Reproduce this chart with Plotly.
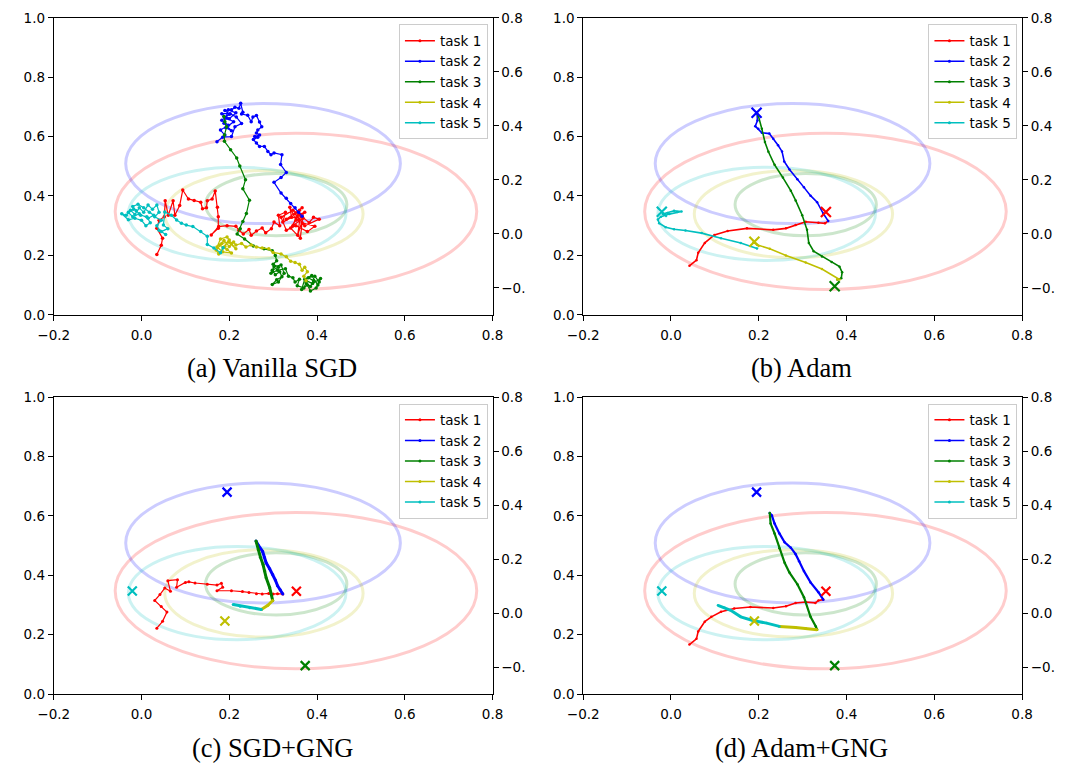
import plotly.graph_objects as go

# ---------------- data ----------------
task_names = ["task 1", "task 2", "task 3", "task 4", "task 5"]
task_colors = ["#ff0000", "#0000ff", "#008000", "#bfbf00", "#00bfbf"]
ellipse_colors = ["rgba(255,0,0,0.2)", "rgba(0,0,255,0.2)", "rgba(0,128,0,0.2)",
                  "rgba(191,191,0,0.2)", "rgba(0,191,191,0.2)"]
panel_titles = ["(a) Vanilla SGD", "(b) Adam", "(c) SGD+GNG", "(d) Adam+GNG"]

# task optima (x markers)
opt_x = [0.353, 0.195, 0.373, 0.190, -0.021]
opt_y = [0.346, 0.680, 0.096, 0.246, 0.347]

# loss contour ellipses per task: centre and semi-axes
ell_cx = [0.352, 0.277, 0.307, 0.279, 0.218]
ell_cy = [0.348, 0.509, 0.371, 0.339, 0.340]
ell_rx = [0.412, 0.313, 0.161, 0.226, 0.248]
ell_ry = [0.263, 0.202, 0.105, 0.147, 0.157]

x_tick_vals = [-0.2, 0.0, 0.2, 0.4, 0.6, 0.8]
y_tick_vals = [0.0, 0.2, 0.4, 0.6, 0.8, 1.0]
right_tick_vals = [-0.2, 0.0, 0.2, 0.4, 0.6, 0.8]
right_tick_text = ["\u22120.", "0.0", "0.2", "0.4", "0.6", "0.8"]

# (a) Vanilla SGD trajectories
sgd_task1 = [(0.035,0.203),(0.045,0.234),(0.048,0.258),(0.035,0.291),(0.040,0.318),(0.052,0.330),
             (0.054,0.384),(0.061,0.335),(0.072,0.384),(0.076,0.335),(0.087,0.368),(0.094,0.420),
             (0.107,0.390),(0.120,0.385),(0.135,0.379),(0.139,0.357),(0.148,0.360),(0.150,0.384),
             (0.161,0.390),(0.168,0.417),(0.173,0.362),(0.175,0.330),(0.175,0.291),(0.159,0.269),
             (0.176,0.297),(0.195,0.300),(0.215,0.298),(0.222,0.285),(0.232,0.272),(0.245,0.287),
             (0.250,0.268),(0.262,0.282),(0.275,0.292),(0.283,0.276),(0.296,0.290),(0.302,0.312),
             (0.315,0.300),(0.312,0.335),(0.328,0.345),(0.322,0.312),(0.342,0.328),(0.338,0.362),
             (0.352,0.318),(0.360,0.352),(0.345,0.300),(0.368,0.325),(0.356,0.268),(0.362,0.335),
             (0.382,0.310),(0.392,0.328),(0.405,0.322),(0.372,0.300),(0.350,0.340),(0.366,0.360),
             (0.330,0.322),(0.355,0.330),(0.340,0.292),(0.362,0.258),(0.366,0.310),(0.395,0.298),
             (0.378,0.280),(0.352,0.300),(0.330,0.285),(0.318,0.328),(0.345,0.352),(0.360,0.338),
             (0.372,0.345),(0.358,0.320),(0.366,0.332)]
sgd_task2 = [(0.366,0.332),(0.358,0.345),(0.350,0.360),(0.340,0.375),(0.330,0.392),(0.318,0.410),
             (0.302,0.446),(0.318,0.462),(0.330,0.479),(0.317,0.506),(0.320,0.539),(0.302,0.545),
             (0.295,0.539),(0.288,0.550),(0.280,0.567),(0.269,0.567),(0.262,0.578),(0.255,0.590),
             (0.265,0.598),(0.258,0.600),(0.269,0.605),(0.262,0.612),(0.265,0.622),(0.274,0.633),
             (0.269,0.649),(0.262,0.671),(0.254,0.666),(0.250,0.650),(0.242,0.672),(0.228,0.676),
             (0.231,0.682),(0.226,0.712),(0.222,0.695),(0.213,0.699),(0.205,0.690),(0.190,0.688),
             (0.200,0.675),(0.183,0.655),(0.198,0.638),(0.180,0.622),(0.190,0.605),(0.172,0.583),
             (0.185,0.598),(0.205,0.600),(0.213,0.633),(0.228,0.644),(0.216,0.666),(0.202,0.677),
             (0.183,0.677),(0.195,0.662),(0.210,0.650),(0.192,0.630),(0.205,0.620),(0.188,0.645),
             (0.198,0.690),(0.215,0.680),(0.200,0.660),(0.188,0.668)]
sgd_task3 = [(0.188,0.668),(0.190,0.650),(0.194,0.633),(0.189,0.605),(0.189,0.584),(0.203,0.556),
             (0.217,0.528),(0.224,0.501),(0.237,0.455),(0.231,0.424),(0.246,0.386),(0.239,0.341),
             (0.231,0.314),(0.225,0.290),(0.218,0.272),(0.235,0.255),(0.255,0.232),(0.279,0.222),
             (0.298,0.216),(0.305,0.200),(0.308,0.182),(0.300,0.170),(0.312,0.160),(0.298,0.150),
             (0.305,0.135),(0.315,0.145),(0.320,0.128),(0.308,0.118),(0.298,0.102),(0.312,0.110),
             (0.325,0.140),(0.318,0.168),(0.302,0.162),(0.295,0.140),(0.310,0.150),(0.328,0.155),
             (0.335,0.130),(0.345,0.125),(0.350,0.110),(0.360,0.120),(0.355,0.098),(0.370,0.090),
             (0.375,0.108),(0.385,0.095),(0.392,0.115),(0.380,0.125),(0.395,0.130),(0.405,0.110),
             (0.398,0.090),(0.385,0.080),(0.378,0.100),(0.365,0.085),(0.372,0.120),(0.388,0.132),
             (0.402,0.100),(0.408,0.122),(0.390,0.105),(0.375,0.115)]
sgd_task4 = [(0.375,0.115),(0.370,0.130),(0.378,0.145),(0.372,0.160),(0.366,0.150),(0.360,0.170),
             (0.350,0.176),(0.340,0.180),(0.330,0.195),(0.318,0.205),(0.300,0.210),(0.290,0.222),
             (0.275,0.225),(0.262,0.228),(0.250,0.235),(0.238,0.228),(0.228,0.240),(0.215,0.235),
             (0.210,0.245),(0.200,0.230),(0.188,0.250),(0.178,0.235),(0.195,0.220),(0.205,0.208),
             (0.185,0.212),(0.172,0.228),(0.180,0.255),(0.195,0.262),(0.205,0.240),(0.215,0.222),
             (0.198,0.245),(0.183,0.240),(0.170,0.218),(0.176,0.205),(0.190,0.230),(0.200,0.252),
             (0.186,0.226)]
sgd_task5 = [(0.186,0.226),(0.180,0.209),(0.165,0.225),(0.150,0.237),(0.150,0.264),(0.135,0.280),
             (0.117,0.297),(0.102,0.302),(0.091,0.308),(0.080,0.319),(0.068,0.335),(0.053,0.346),
             (0.050,0.302),(0.060,0.290),(0.045,0.280),(0.055,0.270),(0.040,0.285),(0.035,0.300),
             (0.045,0.318),(0.030,0.330),(0.040,0.345),(0.035,0.370),(0.025,0.355),(0.015,0.370),
             (0.005,0.345),(-0.005,0.360),(-0.015,0.338),(-0.025,0.352),(-0.035,0.335),(-0.045,0.340),
             (-0.030,0.320),(-0.015,0.325),(0.000,0.318),(0.010,0.300),(0.020,0.310),(0.012,0.330),
             (-0.002,0.335),(-0.012,0.350),(-0.020,0.365),(-0.008,0.372),(0.005,0.360),(0.018,0.345),
             (0.028,0.335),(0.015,0.325),(-0.005,0.340),(-0.020,0.330),(-0.030,0.345),(-0.018,0.355)]

# (b) Adam trajectories
adam_task1 = [(0.042,0.165),(0.058,0.184),(0.062,0.209),(0.077,0.242),(0.099,0.269),(0.129,0.282),
              (0.173,0.291),(0.233,0.286),(0.262,0.291),(0.284,0.302),(0.307,0.313),(0.336,0.310),
              (0.351,0.308),(0.358,0.316)]
adam_task2 = [(0.358,0.316),(0.347,0.341),(0.333,0.379),(0.318,0.401),(0.303,0.429),(0.288,0.456),
              (0.270,0.489),(0.258,0.516),(0.253,0.550),(0.244,0.571),(0.233,0.593),(0.224,0.610),
              (0.207,0.613),(0.199,0.626),(0.192,0.635),(0.197,0.654),(0.196,0.679)]
adam_task3 = [(0.196,0.679),(0.199,0.670),(0.207,0.626),(0.214,0.582),(0.222,0.549),(0.236,0.505),
              (0.255,0.462),(0.273,0.418),(0.284,0.385),(0.299,0.335),(0.310,0.286),(0.314,0.242),
              (0.325,0.214),(0.344,0.196),(0.366,0.178),(0.384,0.162),(0.390,0.143),(0.388,0.123),
              (0.379,0.119)]
adam_task4 = [(0.379,0.119),(0.384,0.119),(0.344,0.154),(0.307,0.176),(0.262,0.200),(0.225,0.222),
              (0.196,0.236),(0.188,0.244)]
adam_task5 = [(0.196,0.223),(0.159,0.242),(0.114,0.258),(0.070,0.275),(0.033,0.284),(0.007,0.288),
              (-0.012,0.295),(-0.027,0.308),(-0.030,0.321),(-0.023,0.330),(-0.004,0.339),(0.014,0.346),
              (0.024,0.348),(0.007,0.350),(-0.008,0.343),(-0.019,0.339)]

# (c) SGD+GNG trajectories
sgdgng_task1 = [(0.035,0.222),(0.048,0.245),(0.058,0.276),(0.045,0.295),(0.030,0.315),(0.042,0.335),
                (0.053,0.357),(0.066,0.346),(0.060,0.382),(0.082,0.385),(0.080,0.360),(0.100,0.376),
                (0.108,0.378),(0.122,0.374),(0.150,0.370),(0.172,0.367),(0.182,0.373),(0.185,0.360),
                (0.172,0.348),(0.205,0.348),(0.230,0.345),(0.245,0.342),(0.262,0.338),(0.275,0.337),
                (0.290,0.339),(0.300,0.337),(0.310,0.338),(0.322,0.337)]
sgdgng_task2 = [(0.322,0.337),(0.316,0.351),(0.310,0.365),(0.305,0.384),(0.299,0.403),(0.292,0.422),
                (0.284,0.442),(0.280,0.461),(0.276,0.480),(0.266,0.502),(0.261,0.515)]
sgdgng_task3 = [(0.261,0.515),(0.266,0.486),(0.271,0.461),(0.277,0.436),(0.281,0.414),(0.284,0.392),
                (0.292,0.359),(0.299,0.315)]
sgdgng_task4 = [(0.299,0.315),(0.288,0.299),(0.273,0.285)]
sgdgng_task5 = [(0.273,0.285),(0.247,0.291),(0.225,0.296),(0.209,0.302)]

# (d) Adam+GNG trajectories
adamgng_task1 = [(0.042,0.167),(0.058,0.186),(0.062,0.211),(0.077,0.244),(0.092,0.260),(0.114,0.277),
                 (0.144,0.288),(0.181,0.293),(0.233,0.290),(0.262,0.296),(0.284,0.307),(0.307,0.310),
                 (0.329,0.307),(0.336,0.315),(0.347,0.318)]
adamgng_task2 = [(0.347,0.318),(0.336,0.343),(0.318,0.376),(0.303,0.414),(0.292,0.447),(0.284,0.471),
                 (0.273,0.493),(0.259,0.511),(0.247,0.541),(0.236,0.574),(0.230,0.601),(0.225,0.610)]
adamgng_task3 = [(0.225,0.610),(0.227,0.574),(0.236,0.541),(0.247,0.491),(0.259,0.442),(0.270,0.409),
                 (0.288,0.370),(0.303,0.326),(0.318,0.260),(0.330,0.228),(0.333,0.217)]
adamgng_task4 = [(0.333,0.217),(0.307,0.222),(0.284,0.224),(0.247,0.228)]
adamgng_task5 = [(0.247,0.228),(0.218,0.239),(0.188,0.247),(0.159,0.260),(0.136,0.282),(0.122,0.291),
                 (0.107,0.299)]

panel_trajectories = [
    [sgd_task1, sgd_task2, sgd_task3, sgd_task4, sgd_task5],
    [adam_task1, adam_task2, adam_task3, adam_task4, adam_task5],
    [sgdgng_task1, sgdgng_task2, sgdgng_task3, sgdgng_task4, sgdgng_task5],
    [adamgng_task1, adamgng_task2, adamgng_task3, adamgng_task4, adamgng_task5],
]
show_optima = [False, True, True, True]

# ---------------- layout geometry (px) ----------------
W, H = 1086, 769
panel_left_px = [38.7, 581.7, 38.7, 581.7]
panel_right_px = [488.7, 1031.7, 488.7, 1031.7]
panel_top_px = [10.0, 10.0, 397.3, 397.3]
panel_bottom_px = [313.3, 313.3, 700.7, 700.7]
title_x_px = [263, 806, 263, 806]
title_y_px = [368, 368, 756, 756]

# line widths / marker sizes per panel and task
line_w = [[1.2] * 5, [1.6] * 5, [1.2, 3, 3, 3, 3], [1.6, 2.2, 2.2, 3, 3]]
mark_s = [[3.5] * 5, [2.5] * 5, [3, 3, 3, 3, 3], [2.5] * 5]

fig = go.Figure()
tick_font = dict(family="DejaVu Sans", size=13.5, color="black")

for p in range(4):
    sfx = "" if p == 0 else str(p + 1)
    xa, ya = "x" + sfx, "y" + sfx
    legend_name = "legend" + sfx
    for t in range(5):
        pts = panel_trajectories[p][t]
        fig.add_trace(go.Scatter(
            x=[q[0] for q in pts], y=[q[1] for q in pts],
            mode="lines+markers", name=task_names[t],
            line=dict(color=task_colors[t], width=line_w[p][t]),
            marker=dict(color=task_colors[t], size=mark_s[p][t]),
            xaxis=xa, yaxis=ya, showlegend=False,
        ))
    # legend entries (uniform thin line with small marker, like the reference)
    for t in range(5):
        fig.add_trace(go.Scatter(
            x=[None], y=[None], mode="lines+markers", name=task_names[t],
            line=dict(color=task_colors[t], width=1.5),
            marker=dict(color=task_colors[t], size=3),
            xaxis=xa, yaxis=ya, legend=legend_name, showlegend=True,
        ))
    if show_optima[p]:
        for t in range(5):
            fig.add_trace(go.Scatter(
                x=[opt_x[t]], y=[opt_y[t]], mode="markers",
                marker=dict(symbol="x-thin", size=9 if p > 1 else 10,
                            line=dict(color=task_colors[t], width=2.2)),
                xaxis=xa, yaxis=ya, showlegend=False, hoverinfo="skip",
            ))
    for t in range(5):
        fig.add_shape(type="circle", xref=xa, yref=ya,
                      x0=ell_cx[t] - ell_rx[t], x1=ell_cx[t] + ell_rx[t],
                      y0=ell_cy[t] - ell_ry[t], y1=ell_cy[t] + ell_ry[t],
                      line=dict(color=ellipse_colors[t], width=3), layer="below")

    xdom = [panel_left_px[p] / W, panel_right_px[p] / W]
    ydom = [1 - panel_bottom_px[p] / H, 1 - panel_top_px[p] / H]
    fig.update_layout(**{
        "xaxis" + sfx: dict(domain=xdom, anchor=ya, range=[-0.2, 0.8], tickvals=x_tick_vals,
                            tickformat=".1f", showgrid=False, zeroline=False, showline=True,
                            linecolor="black", linewidth=1, mirror=True, ticks="outside",
                            ticklen=5, tickcolor="black", tickfont=tick_font,
                            ticklabelstandoff=3),
        "yaxis" + sfx: dict(domain=ydom, anchor=xa, range=[0, 1.0], tickvals=y_tick_vals,
                            tickformat=".1f", showgrid=False, zeroline=False, showline=True,
                            linecolor="black", linewidth=1, mirror=False, ticks="outside",
                            ticklen=5, tickcolor="black", tickfont=tick_font),
        "yaxis" + str(p + 5): dict(overlaying=ya, anchor=xa, side="right", range=[-0.3, 0.8],
                                   tickvals=right_tick_vals, ticktext=right_tick_text,
                                   showgrid=False, zeroline=False, showline=True,
                                   linecolor="black", linewidth=1, ticks="outside", ticklen=5,
                                   tickcolor="black", tickfont=tick_font),
        legend_name: dict(x=(panel_left_px[p] + 354) / W, y=1 - (panel_top_px[p] + 6.7) / H,
                          xanchor="left", yanchor="top", bgcolor="rgba(255,255,255,0.8)",
                          bordercolor="#cccccc", borderwidth=1,
                          font=dict(family="DejaVu Sans", size=13.5, color="black")),
    })
    # dummy trace on right axis so it is drawn
    fig.add_trace(go.Scatter(x=[None], y=[None], xaxis=xa, yaxis="y" + str(p + 5),
                             showlegend=False, hoverinfo="skip"))
    fig.add_annotation(text=panel_titles[p], xref="paper", yref="paper",
                       x=title_x_px[p] / W, y=1 - title_y_px[p] / H,
                       xanchor="center", yanchor="middle", showarrow=False,
                       font=dict(family="Liberation Serif", size=26.5, color="black"))

fig.update_layout(width=W, height=H, margin=dict(l=0, r=0, t=0, b=0),
                  paper_bgcolor="white", plot_bgcolor="white")

fig.write_html("out.html", config={"displayModeBar": False},
               post_script="document.body.style.margin='0';")
